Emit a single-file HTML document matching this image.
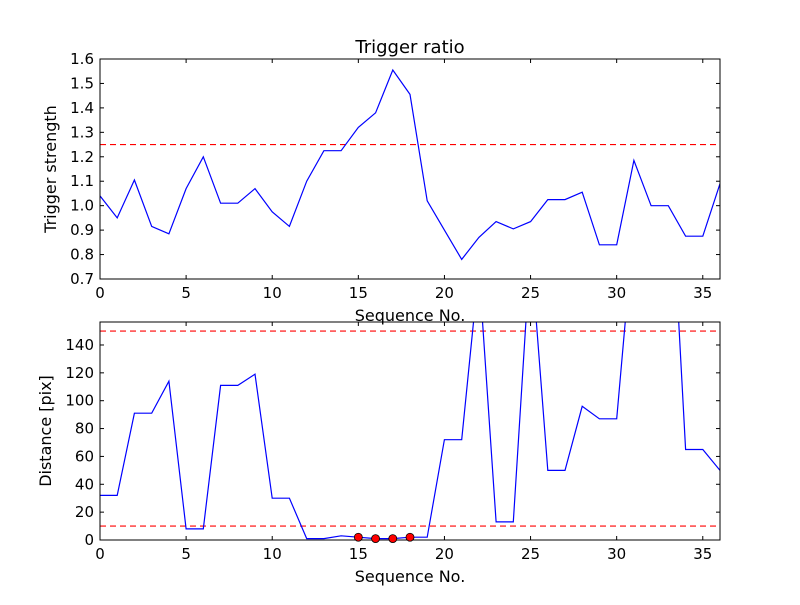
<!DOCTYPE html>
<html><head><meta charset="utf-8"><style>
body{margin:0;background:#fff;}
svg text{font-family:"DejaVu Sans","Liberation Sans",sans-serif;}
</style></head><body>
<svg id="c" width="800" height="600" viewBox="0 0 800 600" xmlns="http://www.w3.org/2000/svg">
<rect width="800" height="600" fill="#fff"/>
</svg>
<script>
const xs = [0,1,2,3,4,5,6,7,8,9,10,11,12,13,14,15,16,17,18,19,20,21,22,23,24,25,26,27,28,29,30,31,32,33,34,35,36];
const ratio = [1.04,0.95,1.105,0.915,0.885,1.07,1.2,1.01,1.01,1.07,0.975,0.915,1.10,1.225,1.225,1.32,1.38,1.555,1.455,1.02,0.9,0.78,0.87,0.935,0.905,0.935,1.025,1.025,1.055,0.84,0.84,1.185,1.0,1.0,0.875,0.875,1.09];
const dist = [32,32,91,91,114,8,8,111,111,119,30,30,1,1,3,2,1,1,2,2,72,72,195,13,13,210,50,50,96,87,87,227,260,295,65,65,50];
const markX = [15,16,17,18];
const markY = [2,1,1,2];
const xTicks = [0,5,10,15,20,25,30,35];
const topTicks = [0.7,0.8,0.9,1.0,1.1,1.2,1.3,1.4,1.5,1.6];
const botTicks = [0,20,40,60,80,100,120,140];
const topThresh = [1.25];
const botThresh = [10,150];

const NS="http://www.w3.org/2000/svg";
const svg=document.getElementById('c');
function mk(tag,attrs,parent){const e=document.createElementNS(NS,tag);for(const k in attrs)e.setAttribute(k,attrs[k]);(parent||svg).appendChild(e);return e;}
const L=100,R=720;
const sx=v=>L+(v-0)/(36-0)*(R-L);

function panel(T,B,ymin,ymax,ys,ticks,thr,fmt,ylabel,title,name){
  const sy=v=>B-(v-ymin)/(ymax-ymin)*(B-T);
  const g=mk('g',{});
  
  
  const clipId=name+'-clip';
  const cp=mk('clipPath',{id:clipId},g);mk('rect',{x:L,y:T,width:R-L,height:B-T},cp);
  thr.forEach(t=>{const l=mk('line',{x1:L,x2:R,y1:sy(t),y2:sy(t),stroke:'#f00','stroke-width':1.2,'stroke-dasharray':'6,4'},g);
    
    });
  const pts=xs.map((x,i)=>sx(x).toFixed(1)+','+sy(ys[i]).toFixed(1)).join(' ');
  const pl=mk('polyline',{points:pts,fill:'none',stroke:'#00f','stroke-width':1.2,'clip-path':'url(#'+clipId+')'},g);
  
  
  const fr=mk('rect',{x:L,y:T,width:R-L,height:B-T,fill:'none',stroke:'#000','stroke-width':1},g);
  
  
  xTicks.forEach(t=>{const x=sx(t);
    mk('line',{x1:x,x2:x,y1:B,y2:B-4,stroke:'#000'},g);mk('line',{x1:x,x2:x,y1:T,y2:T+4,stroke:'#000'},g);
    const tx=mk('text',{x:x,y:B+19,'font-size':15,'text-anchor':'middle'},g);tx.textContent=t;
    
    });
  ticks.forEach(t=>{const y=sy(t);
    mk('line',{x1:L,x2:L+4,y1:y,y2:y,stroke:'#000'},g);mk('line',{x1:R,x2:R-4,y1:y,y2:y,stroke:'#000'},g);
    const tx=mk('text',{x:L-6,y:y+5,'font-size':15,'text-anchor':'end'},g);tx.textContent=fmt(t);
    
    });
  const xl=mk('text',{x:(L+R)/2,y:B+42,'font-size':16,'text-anchor':'middle'},g);xl.textContent='Sequence No.';
  
  
  const yl=mk('text',{x:0,y:0,'font-size':16,'text-anchor':'middle',transform:'translate('+(ylabel[1])+','+((T+B)/2)+') rotate(-90)'},g);yl.textContent=ylabel[0];
  
  
  if(title){const tt=mk('text',{x:(L+R)/2,y:T-6,'font-size':18,'text-anchor':'middle'},g);tt.textContent=title;
    
    }
  return sy;
}
panel(59,279,0.7,1.6,ratio,topTicks,topThresh,v=>v.toFixed(1),['Trigger strength',56],'Trigger ratio','top-panel');
const sy2=panel(322,540,0,156.5,dist,botTicks,botThresh,v=>String(v),['Distance [pix]',51],null,'bottom-panel');
markX.forEach((x,i)=>{const c=mk('circle',{cx:sx(x),cy:sy2(markY[i]),r:4,fill:'#f00',stroke:'#000','stroke-width':0.8});
  
  });
</script>
</body></html>
